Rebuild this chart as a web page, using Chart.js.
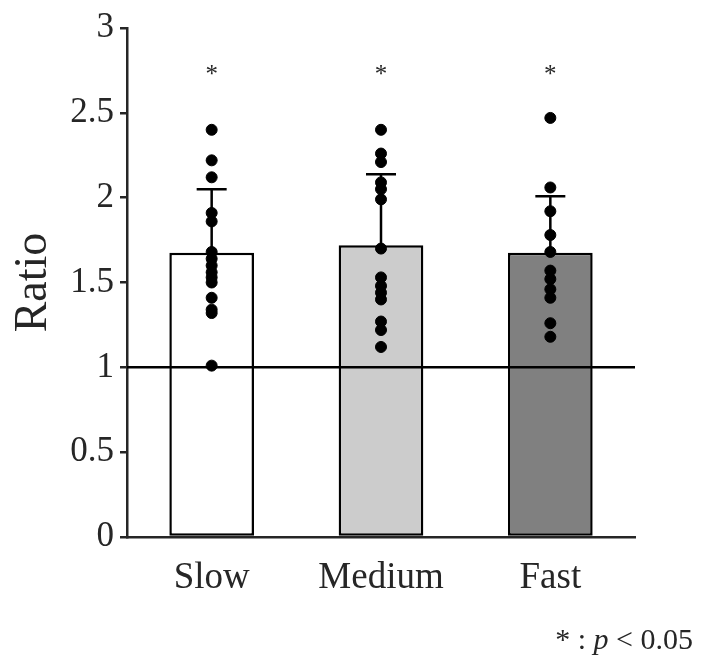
<!DOCTYPE html>
<html>
<head>
<meta charset="utf-8">
<script src="https://cdn.jsdelivr.net/npm/chart.js@4"></script>
<style>
	html, body { margin: 0; padding: 0; background: #fff; }
	#wrap { width: 702px; height: 671px; }
</style>
</head>
<body>
<div id="wrap"><canvas id="ratioChart" width="702" height="671"></canvas></div>
<script>
// Data
const categories = ['Slow', 'Medium', 'Fast'];
const means = [1.675, 1.72, 1.675];
const sds = [0.374, 0.418, 0.334];
const slowPts = [2.40, 2.22, 2.12, 1.91, 1.86, 1.68, 1.64, 1.60, 1.56, 1.53, 1.50, 1.41, 1.34, 1.32, 1.01];
const mediumPts = [2.40, 2.26, 2.21, 2.09, 2.05, 1.99, 1.70, 1.53, 1.48, 1.44, 1.40, 1.27, 1.22, 1.12];
const fastPts = [2.47, 2.06, 1.92, 1.78, 1.68, 1.57, 1.52, 1.46, 1.41, 1.26, 1.18];
const yTicks = [0, 0.5, 1, 1.5, 2, 2.5, 3];
const barColors = ['#ffffff', '#cccccc', '#808080'];
const sigMarks = ['*', '*', '*'];
const refLevel = 1;
const starLevel = 2.72;

Chart.defaults.font.family = '"Liberation Serif", "Times New Roman", serif';
Chart.defaults.color = '#262626';

const pointSets = [slowPts, mediumPts, fastPts];
const dots = [];
pointSets.forEach((pts, i) => {
	pts.forEach((v) => dots.push({ x: categories[i], y: v }));
});

// Error bars, reference line, significance stars and footnote
const extras = {
	id: 'extras',
	afterDatasetsDraw(chart) {
		const ctx = chart.ctx;
		const xs = chart.scales.x;
		const ys = chart.scales.y;
		const area = chart.chartArea;
		ctx.save();
		ctx.strokeStyle = '#000';
		ctx.lineWidth = 2.5;

		// reference line
		const yRef = ys.getPixelForValue(refLevel);
		ctx.beginPath();
		ctx.moveTo(area.left, yRef);
		ctx.lineTo(area.right, yRef);
		ctx.stroke();

		// upper error bars
		categories.forEach((c, i) => {
			const x = xs.getPixelForValue(i);
			const y0 = ys.getPixelForValue(means[i]);
			const y1 = ys.getPixelForValue(means[i] + sds[i]);
			ctx.beginPath();
			ctx.moveTo(x, y0);
			ctx.lineTo(x, y1);
			ctx.moveTo(x - 15, y1);
			ctx.lineTo(x + 15, y1);
			ctx.stroke();
		});

		// stars
		ctx.fillStyle = '#262626';
		ctx.font = '25px "Liberation Serif"';
		ctx.textAlign = 'center';
		ctx.textBaseline = 'middle';
		categories.forEach((c, i) => {
			ctx.fillText(sigMarks[i], xs.getPixelForValue(i), ys.getPixelForValue(starLevel));
		});

		// footnote: * : p < 0.05
		const parts = [
			['* : ', '30px "Liberation Serif"'],
			['p', 'italic 30px "Liberation Serif"'],
			[' < 0.05', '30px "Liberation Serif"'],
		];
		let total = 0;
		parts.forEach((p) => {
			ctx.font = p[1];
			total += ctx.measureText(p[0]).width;
		});
		let x = 693 - total;
		ctx.textAlign = 'left';
		ctx.textBaseline = 'alphabetic';
		parts.forEach((p) => {
			ctx.font = p[1];
			ctx.fillText(p[0], x, 649);
			x += ctx.measureText(p[0]).width;
		});
		ctx.restore();
	},
};

const ctx = document.getElementById('ratioChart').getContext('2d');
const chart = new Chart(ctx, {
	type: 'bar',
	data: {
		labels: categories,
		datasets: [
			{
				type: 'scatter',
				data: dots,
				backgroundColor: '#000',
				borderColor: '#000',
				pointRadius: 5.5,
				pointHoverRadius: 5.5,
				order: 0,
			},
			{
				data: means,
				backgroundColor: barColors,
				borderColor: '#000',
				borderWidth: 2.5,
				borderSkipped: false,
				barPercentage: 0.5,
				categoryPercentage: 1,
				order: 1,
			},
		],
	},
	plugins: [extras],
	options: {
		responsive: false,
		animation: false,
		events: [],
		layout: {
			padding: { left: 0, top: 28, right: 67, bottom: 0 },
		},
		plugins: {
			legend: { display: false },
			tooltip: { enabled: false },
		},
		scales: {
			x: {
				type: 'category',
				offset: true,
				grid: { display: true, drawOnChartArea: false, drawTicks: false },
				border: { display: true, color: '#262626', width: 2.5 },
				ticks: { font: { size: 37 }, padding: 19, maxRotation: 0 },
				afterFit(scale) {
					scale.height = 134;
				},
			},
			y: {
				min: 0,
				max: 3,
				afterBuildTicks(scale) {
					scale.ticks = yTicks.map((v) => ({ value: v }));
				},
				grid: {
					drawOnChartArea: false,
					drawTicks: true,
					tickLength: 7,
					color: '#262626',
					lineWidth: 2.5,
				},
				border: { display: true, color: '#262626', width: 2.5 },
				ticks: {
					font: { size: 35 },
					padding: 6,
					callback: (v) => String(v),
				},
				title: {
					display: true,
					text: 'Ratio',
					font: { size: 46 },
					padding: { top: 6, bottom: 0 },
				},
				afterFit(scale) {
					scale.width = 127;
				},
			},
		},
	},
});
</script>
</body>
</html>
